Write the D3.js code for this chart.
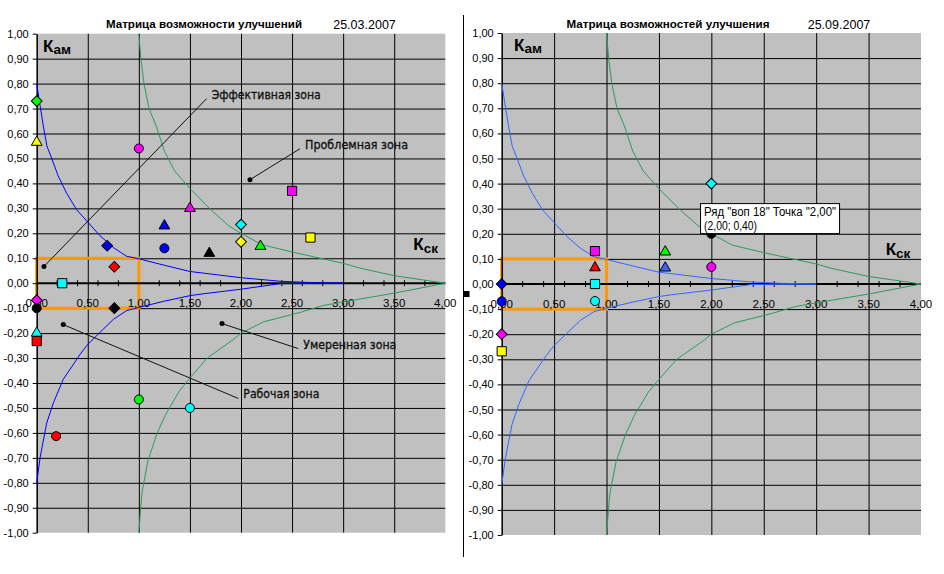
<!DOCTYPE html>
<html lang="ru">
<head>
  <title>Матрица возможностей улучшения</title>
  <meta charset="utf-8"/>
  <script src="https://d3js.org/d3.v7.min.js"></script>
  <style>
    body { margin: 0; background: #fff; }
    .tick text { font-family: Arial, "Liberation Sans", sans-serif; font-size: 11px; fill: #000; }
    .xlabel { font-family: Arial, "Liberation Sans", sans-serif; font-size: 11.5px; fill: #000; }
    .zona { font-family: "DejaVu Sans", sans-serif; font-size: 12.5px; fill: #111; stroke: #111; stroke-width: 0.35px; }
    .titulo { font-family: Arial, "Liberation Sans", sans-serif; font-size: 11px; font-weight: bold; fill: #000; }
    .fecha { font-family: Arial, "Liberation Sans", sans-serif; font-size: 12.5px; fill: #000; }
    .koef { font-family: Arial, "Liberation Sans", sans-serif; font-weight: bold; fill: #000; }
    .tip { font-family: Arial, "Liberation Sans", sans-serif; font-size: 12.5px; fill: #000; }
  </style>
</head>
<body>
<svg id="matriza" width="944" height="574"></svg>

<script type="text/javascript">
  // ---- datos ----
  const xTickValues = [0, 0.5, 1, 1.5, 2, 2.5, 3, 3.5, 4];
  const xTickLabels = ["0,00", "0,50", "1,00", "1,50", "2,00", "2,50", "3,00", "3,50", "4,00"];
  const xMinorTicks = [0.2, 0.4, 0.6, 0.8, 1.2, 1.4, 1.6, 1.8, 2.2, 2.4, 2.6, 2.8, 3.2, 3.4, 3.6, 3.8];
  const yTickValues = [1, 0.9, 0.8, 0.7, 0.6, 0.5, 0.4, 0.3, 0.2, 0.1, 0,
                       -0.1, -0.2, -0.3, -0.4, -0.5, -0.6, -0.7, -0.8, -0.9, -1];
  const yTickLabels = ["1,00", "0,90", "0,80", "0,70", "0,60", "0,50", "0,40", "0,30", "0,20", "0,10", "0,00",
                       "-0,10", "-0,20", "-0,30", "-0,40", "-0,50", "-0,60", "-0,70", "-0,80", "-0,90", "-1,00"];

  // граничные кривые
  const blueUpper = [[0, 0.80], [0.03, 0.72], [0.065, 0.63], [0.1, 0.55], [0.147, 0.50], [0.21, 0.43],
                     [0.294, 0.36], [0.39, 0.295], [0.5, 0.245], [0.62, 0.19], [0.75, 0.143], [0.88, 0.108],
                     [1.0, 0.098], [1.17, 0.08], [1.5, 0.047], [1.6, 0.042], [2.0, 0.022], [2.38, 0.008],
                     [2.65, 0.003], [3.0, 0.0]];
  const blueLower = [[0, -0.80], [0.033, -0.70], [0.098, -0.56], [0.163, -0.48], [0.26, -0.385],
                     [0.425, -0.285], [0.5, -0.245], [0.62, -0.197], [0.75, -0.145], [0.88, -0.11],
                     [1.0, -0.097], [1.25, -0.072], [1.5, -0.05], [1.6, -0.044], [2.0, -0.024],
                     [2.38, -0.002], [3.0, 0.0]];
  const greenUpper = [[1.0, 1.0], [1.02, 0.9], [1.05, 0.8], [1.1, 0.7], [1.17, 0.63], [1.25, 0.53],
                      [1.35, 0.45], [1.5, 0.38], [1.69, 0.30], [1.88, 0.23], [2.0, 0.20], [2.2, 0.155],
                      [2.5, 0.125], [2.83, 0.095], [3.0, 0.08], [3.15, 0.062], [3.5, 0.03], [4.0, 0.0]];
  const greenLower = [[1.0, -1.0], [1.03, -0.84], [1.09, -0.71], [1.18, -0.6], [1.27, -0.52], [1.4, -0.43],
                      [1.5, -0.38], [1.67, -0.30], [1.93, -0.224], [2.0, -0.2], [2.22, -0.155],
                      [2.58, -0.117], [2.8, -0.09], [3.0, -0.075], [3.5, -0.04], [4.0, 0.0]];
  const effZone = [[0, -0.1], [1, 0.1]];

  // 25.03.2007
  const marchPoints = [[0, 0.73], [0, 0.565], [1.0, 0.54], [1.25, 0.23], [1.25, 0.14], [0.69, 0.15],
                       [0.76, 0.066], [0.25, 0.0], [1.5, 0.30], [1.69, 0.12], [2.0, 0.235], [2.0, 0.166],
                       [2.19, 0.148], [2.5, 0.37], [2.68, 0.183], [0, -0.068], [0, -0.10], [0.76, -0.10],
                       [0, -0.20], [0, -0.232], [0.19, -0.613], [1.0, -0.466], [1.5, -0.50]];
  // 25.09.2007
  const septPoints = [[0, 0.0], [0.89, 0.131], [0.89, 0.065], [0.89, 0.0], [1.56, 0.128], [1.56, 0.064],
                      [2.0, 0.40], [2.0, 0.20], [2.0, 0.068], [0, -0.069], [0.89, -0.068], [0, -0.20],
                      [0, -0.268]];

  const zoneNames = ["Эффективная зона", "Проблемная зона", "Умеренная зона", "Рабочая зона"];
  const zoneDots = [[0.071, 0.067], [2.088, 0.415], [1.814, -0.162], [0.26, -0.166]];
  const zoneLabelAt = [[1.664, 0.74], [2.578, 0.539], [2.561, -0.262], [1.974, -0.462]];

  const tipPoint = [2.0, 0.40];
  const tipLines = ['Ряд "воп 18" Точка "2,00"', '(2,00; 0,40)'];

  // ---- estilos ----
  const marchShapes = ["diamond", "triangle", "circle", "triangle", "circle", "diamond", "diamond", "square",
                       "triangle", "triangle", "diamond", "diamond", "triangle", "square", "square", "diamond",
                       "circle", "diamond", "triangle", "square", "circle", "circle", "circle"];
  const marchColors = ["#00ff00", "#ffff00", "#ff00ff", "#0000ff", "#0000ff", "#0000ee", "#ff0000", "#00ffff",
                       "#ff00ff", "#000000", "#00ffff", "#ffff00", "#00ff00", "#ff00ff", "#ffff00", "#ff00ff",
                       "#000000", "#000000", "#00ffff", "#ff0000", "#ff0000", "#00ff00", "#00ffff"];
  const septShapes = ["diamond", "square", "triangle", "square", "triangle", "triangle", "diamond", "circle",
                      "circle", "circle", "circle", "diamond", "square"];
  const septColors = ["#0000ee", "#ff00ff", "#ff0000", "#00ffff", "#00ff00", "#3366ff", "#00ffff", "#000000",
                      "#ff00ff", "#0000ff", "#00ffff", "#ff00ff", "#ffff00"];
  const zoneWidths = [109, 103, 93, 76];
  const tipWidths = [132, 53];

  const svg = d3.select("#matriza");
  svg.append("rect").attr("width", 944).attr("height", 574).attr("fill", "#fff");

  function symbolFor(shape) {
    if (shape === "circle") return d3.symbol().type(d3.symbolCircle).size(64)();
    if (shape === "square") return d3.symbol().type(d3.symbolSquare).size(84)();
    if (shape === "triangle") return d3.symbol().type(d3.symbolTriangle).size(50)();
    return d3.symbol().type(d3.symbolSquare).size(58)(); // diamond, rotated below
  }

  function drawChart(o) {
    const x = d3.scaleLinear().domain([0, 4]).range([o.left, o.right]);
    const y = d3.scaleLinear().domain([-1, 1]).range([o.bottom, o.top]);
    const w = x(4) - x(0);
    const h = y(-1) - y(1);
    const g = svg.append("g");

    g.append("rect")
            .attr("x", x(0)).attr("y", y(1))
            .attr("width", w).attr("height", h)
            .attr("fill", "#c0c0c0");

    // horizontal gridlines
    g.append("g")
            .attr("transform", `translate(${x(0)},0)`)
            .call(d3.axisLeft(y).tickValues(yTickValues.filter(v => Math.abs(v) > 0.01 && Math.abs(v) < 0.99))
                    .tickSize(-w).tickFormat(""))
            .call(s => s.select(".domain").remove())
            .selectAll("line").attr("stroke", "#000");

    // vertical gridlines
    g.append("g")
            .attr("transform", `translate(0,${y(-1)})`)
            .call(d3.axisBottom(x).tickValues(xTickValues.filter(v => v > 0 && v < 4))
                    .tickSize(-h).tickFormat(""))
            .call(s => s.select(".domain").remove())
            .selectAll("line").attr("stroke", "#000");

    // orange zone
    g.append("rect")
            .attr("x", x(effZone[0][0])).attr("y", y(effZone[1][1]))
            .attr("width", x(effZone[1][0]) - x(effZone[0][0]))
            .attr("height", y(effZone[0][1]) - y(effZone[1][1]))
            .attr("fill", "none").attr("stroke", "#ff9900").attr("stroke-width", 3);

    // y axis
    const yAx = g.append("g")
            .attr("transform", `translate(${x(0)},0)`)
            .call(d3.axisLeft(y).tickValues(yTickValues).tickFormat((d, i) => yTickLabels[i])
                    .tickSize(4).tickSizeOuter(0).tickPadding(4));
    yAx.select(".domain").attr("stroke-width", 1.5);

    // x axis
    g.append("line")
            .attr("x1", x(0)).attr("x2", x(4)).attr("y1", y(0)).attr("y2", y(0))
            .attr("stroke", "#000").attr("stroke-width", 2);
    g.append("g").selectAll("line").data(xMinorTicks).enter().append("line")
            .attr("x1", d => x(d)).attr("x2", d => x(d))
            .attr("y1", y(0) - 3).attr("y2", y(0) + 3)
            .attr("stroke", "#000");
    g.append("g").selectAll("text").data(xTickValues).enter().append("text")
            .attr("class", "xlabel")
            .attr("x", d => x(d)).attr("y", y(0) + 23.5)
            .attr("text-anchor", "middle")
            .text((d, i) => xTickLabels[i]);

    // curves
    const line = d3.line().x(d => x(d[0])).y(d => y(d[1]));
    [blueUpper, blueLower].forEach(c => g.append("path").attr("d", line(c))
            .attr("fill", "none").attr("stroke", o.blue).attr("stroke-width", 1));
    [greenUpper, greenLower].forEach(c => g.append("path").attr("d", line(c))
            .attr("fill", "none").attr("stroke", o.green).attr("stroke-width", 1));

    // zone annotations
    if (o.zones) {
      zoneNames.forEach(function (name, i) {
        g.append("line")
                .attr("x1", x(zoneDots[i][0])).attr("y1", y(zoneDots[i][1]))
                .attr("x2", x(zoneLabelAt[i][0])).attr("y2", y(zoneLabelAt[i][1]))
                .attr("stroke", "#111").attr("stroke-width", 1);
        g.append("circle")
                .attr("cx", x(zoneDots[i][0])).attr("cy", y(zoneDots[i][1])).attr("r", 2.5)
                .attr("fill", "#000");
      });
    }

    // markers
    g.append("g").selectAll("path").data(o.points).enter().append("path")
            .attr("d", (d, i) => symbolFor(o.shapes[i]))
            .attr("transform", (d, i) => `translate(${x(d[0])},${y(d[1])})` + (o.shapes[i] === "diamond" ? " rotate(45)" : ""))
            .attr("fill", (d, i) => o.colors[i])
            .attr("stroke", "#000").attr("stroke-width", 1);

    if (o.zones) {
      zoneNames.forEach(function (name, i) {
        g.append("text")
                .attr("class", "zona")
                .attr("x", x(zoneLabelAt[i][0]) + 5).attr("y", y(zoneLabelAt[i][1]))
                .attr("textLength", zoneWidths[i]).attr("lengthAdjust", "spacingAndGlyphs")
                .text(name);
      });
    }

    // Кам, Кск
    const kam = g.append("text").attr("class", "koef")
            .attr("x", x(0) + o.kamDx).attr("y", y(1) + 18);
    kam.append("tspan").attr("font-size", "17px").text("К");
    kam.append("tspan").attr("font-size", "13.5px").attr("dy", 2).text("ам");
    const ksk = g.append("text").attr("class", "koef")
            .attr("x", x(4) - o.kskDx).attr("y", y(0) - o.kskDy);
    ksk.append("tspan").attr("font-size", "17px").text("К");
    ksk.append("tspan").attr("font-size", "13.5px").attr("dy", 3).text("ск");

    // title and date
    g.append("text").attr("class", "titulo")
            .attr("x", o.titleX).attr("y", 28).attr("text-anchor", "middle")
            .attr("textLength", o.titleW).attr("lengthAdjust", "spacingAndGlyphs")
            .text(o.title);
    g.append("text").attr("class", "fecha")
            .attr("x", o.dateX).attr("y", 28.5).attr("text-anchor", "middle")
            .text(o.date);

    // tooltip
    if (o.tip) {
      const tx = x(tipPoint[0]) - 11.3;
      const ty = y(tipPoint[1]) + 19.5;
      g.append("rect").attr("x", tx + 0.5).attr("y", ty + 0.5).attr("width", 139).attr("height", 30)
              .attr("fill", "#fff").attr("stroke", "#000").attr("stroke-width", 1);
      tipLines.forEach(function (t, i) {
        g.append("text").attr("class", "tip")
                .attr("x", tx + 4).attr("y", ty + 12.5 + i * 14.5)
                .attr("textLength", tipWidths[i]).attr("lengthAdjust", "spacingAndGlyphs")
                .text(t);
      });
    }
  }

  drawChart({
    left: 36.7, right: 445.3, top: 33.7, bottom: 532.7,
    points: marchPoints, shapes: marchShapes, colors: marchColors,
    blue: "#0000ff", green: "#2e9a5e",
    zones: true, tip: false,
    kamDx: 6.3, kskDx: 32, kskDy: 33,
    title: "Матрица возможности улучшений", titleX: 204, titleW: 196,
    date: "25.03.2007", dateX: 364.5
  });

  drawChart({
    left: 501.7, right: 921, top: 33, bottom: 535,
    points: septPoints, shapes: septShapes, colors: septColors,
    blue: "#3366ff", green: "#2e9a5e",
    zones: false, tip: true,
    kamDx: 12.3, kskDx: 35.3, kskDy: 29,
    title: "Матрица возможностей улучшения", titleX: 668, titleW: 203,
    date: "25.09.2007", dateX: 839
  });

  // separator between the two charts
  svg.append("line").attr("x1", 463.5).attr("x2", 463.5).attr("y1", 15).attr("y2", 557)
          .attr("stroke", "#000").attr("stroke-width", 1);
  svg.append("rect").attr("x", 463.5).attr("y", 291).attr("width", 6).attr("height", 6).attr("fill", "#000");
</script>
</body>
</html>
